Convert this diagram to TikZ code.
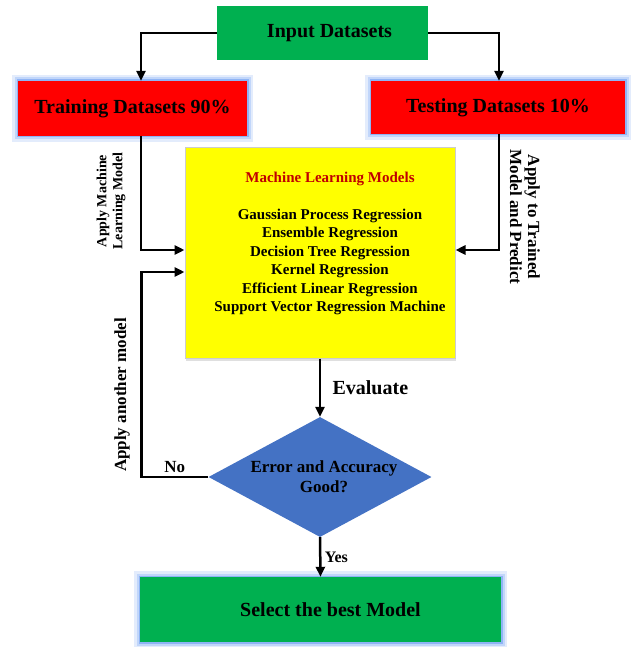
\documentclass[tikz,border=0pt]{standalone}
\usepackage{fontspec}
\setmainfont{Liberation Serif}
\usetikzlibrary{arrows.meta,positioning,shapes.geometric,shadows}

\definecolor{boxgreen}{HTML}{00B050}
\definecolor{boxred}{HTML}{FF0000}
\definecolor{boxyellow}{HTML}{FFFF00}
\definecolor{boxblue}{HTML}{4472C4}
\definecolor{titlered}{HTML}{C00000}
\definecolor{glowblue}{HTML}{8FB4F5}

\begin{document}
\begin{tikzpicture}[
    x=1pt, y=-1pt,
    box/.style={
        rectangle,
        fill=#1,
        inner sep=0pt,
        align=center,
        font=\bfseries\fontsize{20}{24}\selectfont
    },
    glow/.style={
        preaction={draw=glowblue!25, line width=12pt},
        preaction={draw=glowblue!55, line width=7pt},
        preaction={draw=glowblue, line width=3pt}
    },
    mlbox/.style={
        rectangle,
        fill=boxyellow,
        draw=gray!40,
        line width=1pt,
        drop shadow={opacity=0.25, shadow xshift=1pt, shadow yshift=-3pt},
        font=\bfseries\fontsize{15}{18.5}\selectfont
    },
    decision/.style={
        diamond,
        aspect=1.86,
        inner sep=0pt,
        fill=boxblue,
        minimum width=223pt,
        minimum height=120pt,
        align=center,
        font=\bfseries\fontsize{17}{20}\selectfont
    },
    arrow/.style={
        -{Triangle[length=10pt,width=9pt]},
        line width=2.5pt
    },
    lbl/.style={
        font=\bfseries\fontsize{17}{18}\selectfont,
        align=center
    }
]
\useasboundingbox (0,0) rectangle (633,647);

% Input box
\node[box=boxgreen, minimum width=211pt, minimum height=54pt] (input) at (322.5,33) {\hspace*{14pt}Input Datasets};

% Split boxes
\node[box=boxred, glow, minimum width=229pt, minimum height=55pt] (train) at (132.5,108.5) {Training Datasets 90\%};
\node[box=boxred, glow, minimum width=254pt, minimum height=53pt] (test) at (498,107.5) {Testing Datasets 10\%};

% Models box
\node[mlbox, minimum width=270pt, minimum height=210pt] (ml) at (320,253) {%
    \hspace*{20pt}\begin{tabular}{@{}c@{}}
    {\color{titlered}Machine Learning Models}\\[18pt]
    Gaussian Process Regression\\
    Ensemble Regression\\
    Decision Tree Regression\\
    Kernel Regression\\
    Efficient Linear Regression\\
    Support Vector Regression Machine\\
    \mbox{}
    \end{tabular}};

% Decision
\node[decision] (check) at (320,477) {\hspace*{8pt}Error and Accuracy\\\hspace*{8pt}Good?};

% Result box
\node[box=boxgreen, glow, minimum width=361pt, minimum height=65pt] (best) at (320.5,609.5) {\hspace*{20pt}Select the best Model};

% Side labels
\node[lbl, rotate=90, font=\bfseries\fontsize{14}{16}\selectfont] (applyml) at (111,201) {Apply Machine\\Learning Model};
\node[lbl, rotate=-90] (applytest) at (525,217) {Apply to Trained\\Model and Predict};
\node[lbl, rotate=90] (applyother) at (122,395) {Apply another model};

% Connectors
\draw[arrow] (input.west) -| ([xshift=8.5pt]train.north);
\draw[arrow] (input.east) -| ([xshift=1pt]test.north);
\draw[arrow] ([xshift=8.5pt]train.south) |- ([yshift=3pt]ml.west);
\draw[arrow] ([xshift=1pt]test.south) |- ([yshift=3pt]ml.east);
\draw[arrow] (ml.south) -- (check.north)
    node[midway, right=8pt, lbl, font=\bfseries\fontsize{20}{24}\selectfont] {Evaluate};
\draw[arrow] (check.west) -- ++(-67,0)
    node[midway, above, lbl] {No}
    |- ([yshift=-19pt]ml.west);
\draw[arrow] (check.south) -- (best.north)
    node[midway, right=0pt, lbl, font=\bfseries\fontsize{16}{18}\selectfont] {Yes};

\end{tikzpicture}
\end{document}
